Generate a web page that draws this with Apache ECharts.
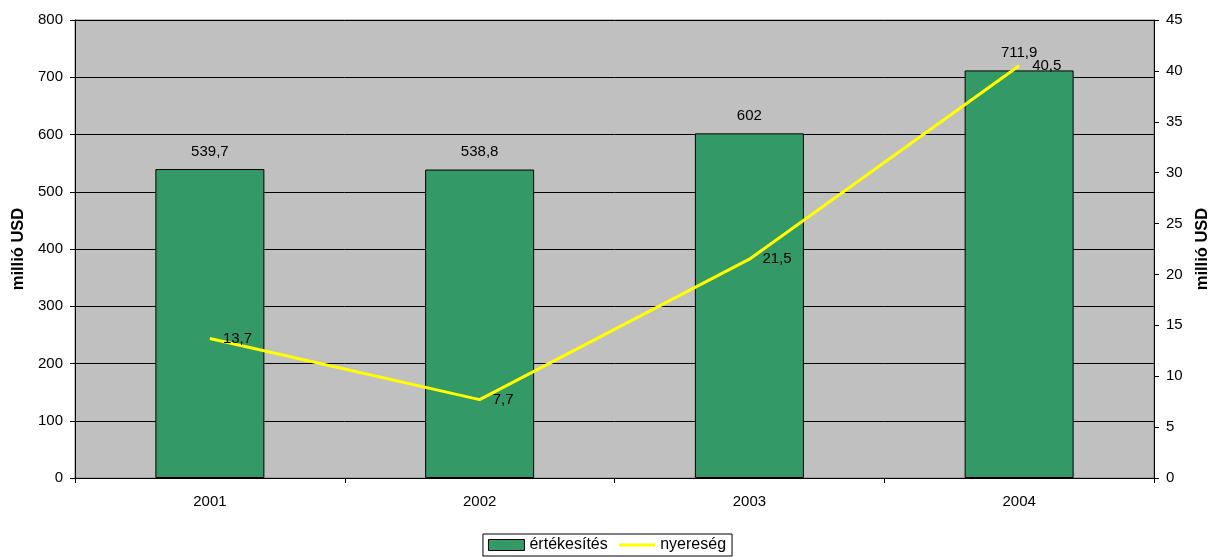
<!DOCTYPE html>
<html><head><meta charset="utf-8">
<script src="https://cdn.jsdelivr.net/npm/echarts@6/dist/echarts.min.js"></script>
<style>html,body{margin:0;padding:0;background:#fff}#c{width:1214px;height:557px}</style>
</head><body><div id="c"></div>
<script>
const categories = ['2001','2002','2003','2004'];
const sales = [539.7, 538.8, 602, 711.9];
const profit = [13.7, 7.7, 21.5, 40.5];
const salesName = 'értékesítés';
const profitName = 'nyereség';
const axisName = 'millió USD';

const fmt = v => String(v).replace('.', ',');
const chart = echarts.init(document.getElementById('c'));
const F = 'Liberation Sans, Arial, sans-serif';
const FS = 15;
chart.setOption({
  animation: false,
  textStyle: {fontFamily: F},
  grid: {left: 75, right: 60, top: 20, bottom: 79, show: true, backgroundColor: '#C0C0C0', borderColor: '#808080', borderWidth: 1,
         outerBoundsMode: 'none', containLabel: false},
  legend: {
    bottom: 1, left: 'center', borderColor: '#000', borderWidth: 1, padding: [3, 6, 3, 5],
    itemGap: 10, itemWidth: 36, itemHeight: 11,
    textStyle: {fontSize: 16, color: '#000', fontFamily: F},
    data: [
      {name: salesName, icon: 'rect', itemStyle: {borderColor: '#000', borderWidth: 1}},
      {name: profitName, itemStyle: {opacity: 0}, lineStyle: {color: '#FFFF00', width: 3}}
    ]
  },
  xAxis: {
    type: 'category', data: categories,
    axisLine: {lineStyle: {color: '#000'}},
    axisTick: {show: true, alignWithLabel: false, length: 5, lineStyle: {color: '#000'}},
    axisLabel: {color: '#000', fontSize: FS, margin: 16, fontFamily: F}
  },
  yAxis: [
    {type: 'value', min: 0, max: 800, interval: 100, name: axisName, nameLocation: 'middle', nameGap: 46,
     nameTextStyle: {fontWeight: 'bold', fontSize: 16.5, color: '#000', fontFamily: F},
     axisLine: {show: true, lineStyle: {color: '#000'}},
     axisTick: {show: true, length: 5, lineStyle: {color: '#000'}},
     axisLabel: {color: '#000', fontSize: FS, margin: 12, fontFamily: F},
     splitLine: {show: true, lineStyle: {color: '#000', width: 1}}},
    {type: 'value', min: 0, max: 45, interval: 5, name: axisName, nameLocation: 'middle', nameGap: 38,
     nameRotate: 90,
     nameTextStyle: {fontWeight: 'bold', fontSize: 16.5, color: '#000', fontFamily: F},
     axisLine: {show: true, lineStyle: {color: '#000'}},
     axisTick: {show: true, length: 5, lineStyle: {color: '#000'}},
     axisLabel: {color: '#000', fontSize: FS, margin: 12, fontFamily: F},
     splitLine: {show: false}}
  ],
  series: [
    {name: salesName, type: 'bar', data: sales, barWidth: 109, yAxisIndex: 0,
     itemStyle: {color: '#339966', borderColor: '#000', borderWidth: 1},
     label: {show: true, position: 'top', distance: 10, color: '#000', fontSize: FS, fontFamily: F, formatter: p => fmt(p.value)}},
    {name: profitName, type: 'line', data: profit, yAxisIndex: 1, symbol: 'circle', symbolSize: 0,
     lineStyle: {color: '#FFFF00', width: 3}, itemStyle: {color: '#FFFF00'},
     label: {show: true, position: 'right', distance: 13, color: '#000', fontSize: FS, fontFamily: F, formatter: p => fmt(p.value)}}
  ]
});
</script></body></html>
